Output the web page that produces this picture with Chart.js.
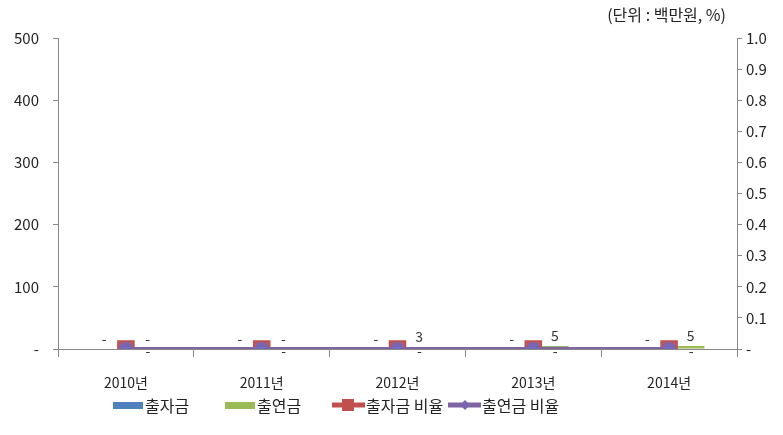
<!DOCTYPE html>
<html>
<head>
<meta charset="utf-8">
<script src="https://cdn.jsdelivr.net/npm/chart.js@4"></script>
<style>
  html, body { margin: 0; background: #fff; }
  #wrap { width: 783px; height: 435px; }
</style>
</head>
<body>
<div id="wrap"><canvas id="grafico"></canvas></div>
<script>
const anos = ["2010년", "2011년", "2012년", "2013년", "2014년"];
const chuljagum = [0, 0, 0, 0, 0];
const chulyeongum = [0, 0, 3, 5, 5];
const chuljaBiyul = [0, 0, 0, 0, 0];
const chulyeonBiyul = [0, 0, 0, 0, 0];
const ticksEsq = ["-", "100", "200", "300", "400", "500"];
const ticksDir = ["-", "0.1", "0.2", "0.3", "0.4", "0.5", "0.6", "0.7", "0.8", "0.9", "1.0"];
const unidade = "(단위 : 백만원, %)";

const FONTE = "'Noto Sans CJK KR', 'Noto Sans', sans-serif";

const extras = {
  id: "extras",
  afterDatasetsDraw(chart) {
    const c = chart.ctx;
    c.save();
    c.font = "14px " + FONTE;
    c.fillStyle = "#333";
    c.textAlign = "center";
    c.textBaseline = "bottom";

    // rótulos das barras
    [0, 1].forEach(i => {
      chart.getDatasetMeta(i).data.forEach((el, j) => {
        const v = chart.data.datasets[i].data[j];
        const dx = i === 0 ? -4 : 4;
        c.fillText(v === 0 ? "-" : String(v), el.x + dx, el.y - 3);
      });
    });

    // rótulos das linhas
    c.textBaseline = "middle";
    chart.getDatasetMeta(3).data.forEach((el, j) => {
      const v = chart.data.datasets[3].data[j];
      c.fillText(v === 0 ? "-" : String(v), el.x + 22, el.y + 2);
    });

    // unidade
    c.textAlign = "right";
    c.font = "16px " + FONTE;
    c.fillStyle = "#222";
    c.fillText(unidade, 726, 15);

    // legenda
    const ds = chart.data.datasets;
    const itens = [
      { x: 113, tipo: "bar" },
      { x: 225, tipo: "bar" },
      { x: 332, tipo: "line" },
      { x: 448, tipo: "line" }
    ];
    const y = 405;
    c.textAlign = "left";
    c.font = "16px " + FONTE;
    itens.forEach((it, i) => {
      const d = ds[i];
      if (it.tipo === "bar") {
        c.fillStyle = d.backgroundColor;
        c.fillRect(it.x, y - 3, 30, 7);
        c.fillStyle = "#222";
        c.fillText(d.label, it.x + 32, y + 1);
      } else {
        c.strokeStyle = d.borderColor;
        c.lineWidth = 5;
        c.beginPath();
        c.moveTo(it.x, y);
        c.lineTo(it.x + 33, y);
        c.stroke();
        c.fillStyle = d.pointBorderColor;
        if (d.pointStyle === "rect") {
          c.fillRect(it.x + 10, y - 6, 12, 12);
        } else {
          c.beginPath();
          c.moveTo(it.x + 17, y - 5);
          c.lineTo(it.x + 22, y);
          c.lineTo(it.x + 17, y + 5);
          c.lineTo(it.x + 12, y);
          c.closePath();
          c.fill();
        }
        c.fillStyle = "#222";
        c.fillText(d.label, it.x + 34, y + 1);
      }
    });
    c.restore();
  }
};

const ctx = document.getElementById("grafico");

new Chart(ctx, {
  type: "bar",
  data: {
    labels: anos,
    datasets: [
      {
        label: "출자금",
        data: chuljagum,
        backgroundColor: "#4F81BD",
        yAxisID: "y",
        order: 2,
        categoryPercentage: 0.52,
        barPercentage: 1
      },
      {
        label: "출연금",
        data: chulyeongum,
        backgroundColor: "#9BBB59",
        yAxisID: "y",
        order: 3,
        categoryPercentage: 0.52,
        barPercentage: 1
      },
      {
        type: "line",
        label: "출자금 비율",
        data: chuljaBiyul,
        borderColor: "#C0504D",
        backgroundColor: "#C0504D",
        pointBackgroundColor: "#B95A6E",
        pointBorderColor: "#C0504D",
        pointBorderWidth: 2,
        pointStyle: "rect",
        pointRadius: 11,
        borderWidth: 4,
        yAxisID: "y1",
        order: 1
      },
      {
        type: "line",
        label: "출연금 비율",
        data: chulyeonBiyul,
        borderColor: "#8064A2",
        backgroundColor: "#8064A2",
        pointBackgroundColor: "#6F6CC0",
        pointBorderColor: "#7A66B0",
        pointStyle: "circle",
        pointRadius: 5,
        borderWidth: 4,
        yAxisID: "y1",
        order: 0
      }
    ]
  },
  options: {
    responsive: true,
    maintainAspectRatio: false,
    animation: false,
    layout: { padding: { top: 38, bottom: 40, left: 0, right: 0 } },
    plugins: {
      legend: { display: false },
      tooltip: { enabled: false }
    },
    scales: {
      x: {
        offset: true,
        grid: { offset: true, drawOnChartArea: false, tickLength: 8, color: "#888" },
        border: { color: "#888" },
        ticks: { padding: 17, color: "#222", font: { size: 14, family: FONTE } },
        afterFit: s => { s.height = 46; }
      },
      y: {
        position: "left",
        min: 0,
        max: 500,
        ticks: {
          stepSize: 100,
          padding: 14,
          color: "#222",
          font: { size: 15, family: FONTE },
          callback: (v, i) => ticksEsq[i]
        },
        grid: { drawOnChartArea: false, tickLength: 5, color: "#888" },
        border: { color: "#888" },
        afterFit: s => { s.width = 58; }
      },
      y1: {
        position: "right",
        min: 0,
        max: 1,
        ticks: {
          stepSize: 0.1,
          padding: 4,
          color: "#222",
          font: { size: 15, family: FONTE },
          callback: (v, i) => ticksDir[i]
        },
        grid: { drawOnChartArea: false, tickLength: 5, color: "#888" },
        border: { color: "#888" },
        afterFit: s => { s.width = 46; }
      }
    }
  },
  plugins: [extras]
});
</script>
</body>
</html>
